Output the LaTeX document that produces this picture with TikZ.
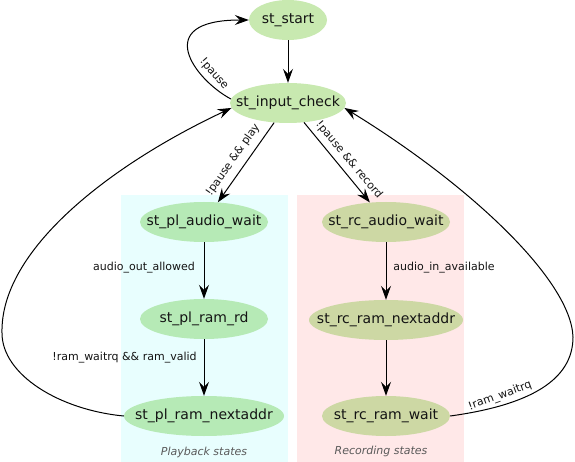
\documentclass[tikz,border=0pt]{standalone}
\usepackage{fontspec}
\setmainfont{DejaVu Sans}
\usetikzlibrary{shapes.geometric,arrows.meta}
\definecolor{cstart}{RGB}{200,233,176}
\definecolor{cpl}{RGB}{182,234,182}
\definecolor{crc}{RGB}{205,216,164}
\definecolor{clpl}{RGB}{232,254,254}
\definecolor{clrc}{RGB}{255,232,232}
\definecolor{ctext}{RGB}{20,20,20}
\definecolor{cclab}{RGB}{90,90,90}
\newcommand{\stxt}[1]{\makebox[0pt][c]{#1}}
\begin{document}
\begin{tikzpicture}[x=1pt,y=-1pt,
  state/.style={ellipse, inner sep=0pt, minimum height=40pt, text=ctext,
    font=\fontsize{14}{16}\selectfont},
  edge/.style={draw, line width=1pt, -{Stealth[length=14pt,width=10pt,inset=5pt]}},
  elabel/.style={inner sep=0pt, text=ctext, font=\fontsize{11}{13}\selectfont},
  clabel/.style={inner sep=0pt, text=cclab, font=\fontsize{11}{13}\selectfont\itshape}]
\useasboundingbox (0,0) rectangle (575,462);
\fill[white] (0,0) rectangle (575,462);
% clusters
\fill[clpl] (121,195) rectangle (288,462);
\fill[clrc] (297,195) rectangle (464,462);
\node[clabel] (lpl) at (204,452) {Playback states};
\node[clabel] (lrc) at (381,451) {Recording states};
% nodes
\node[state, fill=cstart, minimum width=78pt] (start) at (288,20) {\stxt{st\_start}};
\node[state, fill=cstart, minimum width=116pt] (ic) at (288,103) {\stxt{st\_input\_check}};
\node[state, fill=cpl, minimum width=128pt] (plaw) at (204,222) {\stxt{st\_pl\_audio\_wait}};
\node[state, fill=cpl, minimum width=128pt] (plrd) at (204,319) {\stxt{st\_pl\_ram\_rd}};
\node[state, fill=cpl, minimum width=160pt] (plna) at (204,416) {\stxt{st\_pl\_ram\_nextaddr}};
\node[state, fill=crc, minimum width=128pt] (rcaw) at (386,222) {\stxt{st\_rc\_audio\_wait}};
\node[state, fill=crc, minimum width=154pt] (rcna) at (386,320) {\stxt{st\_rc\_ram\_nextaddr}};
\node[state, fill=crc, minimum width=128pt] (rcw) at (386,416) {\stxt{st\_rc\_ram\_wait}};
% edges
\draw[edge] (start) -- (ic);
\draw[edge] (ic.176) .. controls (195,80) and (150,20) .. (start.west);
\draw[edge] (ic) -- (plaw);
\draw[edge] (ic) -- (rcaw);
\draw[edge] (plaw) -- (plrd);
\draw[edge] (plrd) -- (plna);
\draw[edge] (rcaw) -- (rcna);
\draw[edge] (rcna) -- (rcw);
\draw[edge] (plna.west) .. controls (60,410) and (2,375) .. (2,333)
  .. controls (0,250) and (110,165) .. (ic.185);
\draw[edge] (rcw.east) .. controls (530,405) and (573,380) .. (573,337)
  .. controls (571,280) and (470,185) .. (ic.-5);
% labels
\node[elabel, rotate=-49] (lpause) at (214,74) {!pause};
\node[elabel, rotate=55] (lplay) at (233,160) {!pause \&\& play};
\node[elabel, rotate=-50] (lrec) at (349,160) {!pause \&\& record};
\node[elabel] (laoa) at (144,268) {audio\_out\_allowed};
\node[elabel] (lrv) at (124.5,358) {!ram\_waitrq \&\& ram\_valid};
\node[elabel] (laia) at (444,268) {audio\_in\_available};
\node[elabel, rotate=20] (lrw) at (500,396) {!ram\_waitrq};
\end{tikzpicture}
\end{document}
